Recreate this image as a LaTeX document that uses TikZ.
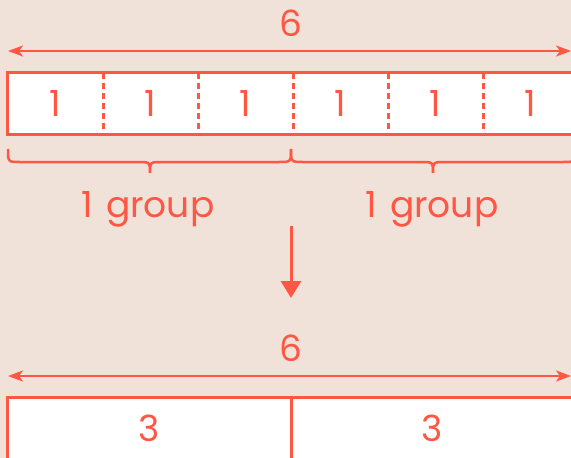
\documentclass[tikz,border=0pt]{standalone}
\usepackage{fontspec}
\setmainfont{Poppins}
\usetikzlibrary{arrows.meta}
\definecolor{bg}{HTML}{F0E1D9}
\definecolor{rd}{HTML}{FF5744}
\tikzset{
  cell/.style={minimum width=95pt,minimum height=61pt,inner sep=0pt,fill=white,font=\fontsize{36}{40}\selectfont,text=rd},
  bigcell/.style={minimum width=283pt,minimum height=61pt,inner sep=0pt,fill=white,font=\fontsize{36}{40}\selectfont,text=rd},
  lbl/.style={font=\fontsize{36}{40}\selectfont,text=rd,inner sep=0pt},
  frame/.style={draw=rd,line width=3pt},
  divider/.style={draw=rd,line width=3pt,dash pattern=on 6pt off 4pt},
  dim/.style={draw=rd,line width=2.2pt,{Stealth[length=15pt,width=11pt,inset=4pt]}-{Stealth[length=15pt,width=11pt,inset=4pt]}},
  bracepath/.style={draw=rd,line width=2.5pt},
  down/.style={draw=rd,line width=3pt,-{Triangle[length=17pt,width=20pt]}}
}
\begin{document}
\begin{tikzpicture}[x=1pt,y=-1pt]
\useasboundingbox (0,0) rectangle (571,458);
\fill[bg] (0,0) rectangle (571,458);
\clip (0,0) rectangle (571,458);
% top dimension
\node[lbl] (six1) at (291,23) {6};
\coordinate (a1l) at (8,51);
\coordinate (a1r) at (571,51);
\draw[dim] (a1l) -- (a1r);
% top row of cells
\foreach \i in {1,...,6}{
  \node[cell] (c\i) at ({8+47.5+95*(\i-1)},103.5) {1};
}
\foreach \i in {1,...,5}{
  \draw[divider] (c\i.north east) -- (c\i.south east);
}
\draw[frame] (c1.north west) rectangle (c6.south east);
% braces
\foreach \xa/\xm/\xb in {8/150/291, 291/433/575}{
  \draw[bracepath] (\xa,149) .. controls (\xa,162) .. (\xa+12,162) -- (\xm-12,162)
     .. controls (\xm,162) .. (\xm,173) .. controls (\xm,162) .. (\xm+12,162)
     -- (\xb-12,162) .. controls (\xb,162) .. (\xb,149);
}
\node[lbl] (g1) at (148,209) {1\hspace{13pt}group};
\node[lbl] (g2) at (432,209) {1\hspace{13pt}group};
% down arrow
\coordinate (d1) at (291,226);
\coordinate (d2) at (291,298);
\draw[down] (d1) -- (d2);
% bottom dimension
\node[lbl] (six2) at (291,348) {6};
\coordinate (a2l) at (8,376);
\coordinate (a2r) at (571,376);
\draw[dim] (a2l) -- (a2r);
% bottom row
\node[bigcell] (b1) at (149.5,428.5) {3};
\node[bigcell] (b2) at (432.5,428.5) {3};
\draw[frame] (b1.north east) -- (b1.south east);
\draw[frame] (b1.north west) rectangle (b2.south east);
\end{tikzpicture}
\end{document}
